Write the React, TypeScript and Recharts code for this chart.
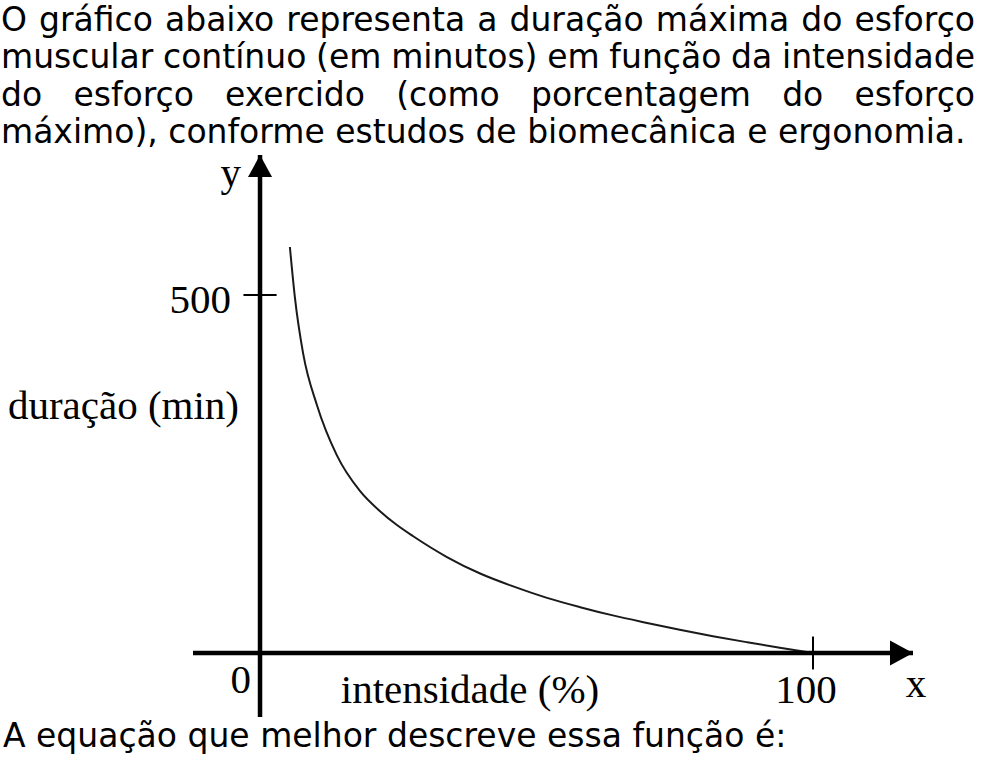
import { LineChart, Line, XAxis, YAxis, ReferenceLine, ReferenceDot } from 'recharts';

// curve: intensity (%) -> max duration (min)
const intensity = [5.4, 6.3, 7.8, 10.3, 13.9, 18.1, 21.7, 24.7, 27.7, 33.8, 39.8, 45.8, 51.9, 57.9, 63.8, 70.0, 75.9, 81.9, 88.1, 94.0, 100];
const duration = [567, 497, 418, 346, 276, 226, 198, 179, 163, 134, 111, 93, 77, 64, 52.5, 42, 32.5, 23.5, 15, 7.3, 0];

const xTicks = [0, 100];
const xTickLabels = ['0', '100'];
const yTicks = [500];
const yTickLabels = ['500'];

const introLines = [
  'O gráfico abaixo representa a duração máxima do esforço',
  'muscular contínuo (em minutos) em função da intensidade',
  'do esforço exercido (como porcentagem do esforço',
  'máximo), conforme estudos de biomecânica e ergonomia.',
];
const question = 'A equação que melhor descreve essa função é:';

const data = intensity.map((x, i) => ({ x, y: duration[i] }));

// axis extents (the drawn axes run a bit past the origin)
const X_MIN = -12.12;
const X_MAX = 118.08;
const Y_MIN = -89.4;
const Y_MAX = 695.5;

const serif = 'Liberation Serif, Times New Roman, serif';
const sans = 'DejaVu Sans, sans-serif';

const tag = (text: string, dx: number, dy: number, anchor: string) => (props: any) => {
  const vb = props.viewBox || {};
  return (
    <text x={vb.x + dx} y={vb.y + dy} textAnchor={anchor} fontFamily={serif} fontSize={41} fill="#000">
      {text}
    </text>
  );
};

const upArrow = (p: any) => <path d={`M${p.cx},${p.cy} l-12,22 l24,0 z`} fill="#000" />;
const rightArrow = (p: any) => <path d={`M${p.cx},${p.cy} l-23,-12.5 l0,25 z`} fill="#000" />;

const hidden = { r: 0, fill: 'none', stroke: 'none', ifOverflow: 'visible' as const };

export default function App() {
  return (
    <div style={{ position: 'absolute', left: 0, top: 0, width: 984, height: 758, background: '#fff', overflow: 'hidden' }}>
      <div style={{ position: 'absolute', left: 0, top: 0 }}>
        <LineChart width={984} height={758} data={data} margin={{ top: 155, right: 71, bottom: 41, left: 193 }}>
          <XAxis dataKey="x" type="number" domain={[X_MIN, X_MAX]} allowDataOverflow hide />
          <YAxis type="number" domain={[Y_MIN, Y_MAX]} allowDataOverflow hide />

          <Line
            type="monotone"
            dataKey="y"
            stroke="#1a1a1a"
            strokeWidth={2}
            dot={false}
            activeDot={false}
            isAnimationActive={false}
          />

          <ReferenceLine x={0} stroke="#000" strokeWidth={4.5} ifOverflow="visible" />
          <ReferenceLine y={0} stroke="#000" strokeWidth={4.5} ifOverflow="visible" />
          <ReferenceDot x={0} y={Y_MAX} {...hidden} shape={upArrow} />
          <ReferenceDot x={X_MAX} y={0} {...hidden} shape={rightArrow} />

          {yTicks.map((v) => (
            <ReferenceLine key={'yt' + v} segment={[{ x: -3, y: v }, { x: 3, y: v }]} stroke="#000" strokeWidth={2} ifOverflow="visible" />
          ))}
          {xTicks.filter((v) => v !== 0).map((v) => (
            <ReferenceLine key={'xt' + v} segment={[{ x: v, y: -23 }, { x: v, y: 23 }]} stroke="#000" strokeWidth={2} ifOverflow="visible" />
          ))}

          <ReferenceDot x={0} y={yTicks[0]} {...hidden} label={tag(yTickLabels[0], -29, 18, 'end')} />
          <ReferenceDot x={0} y={0} {...hidden} label={tag(xTickLabels[0], -9, 40, 'end')} />
          <ReferenceDot x={xTicks[1]} y={0} {...hidden} label={tag(xTickLabels[1], -7, 50, 'middle')} />
          <ReferenceDot x={0} y={Y_MAX} {...hidden} label={tag('y', -19, 31, 'end')} />
          <ReferenceDot x={X_MAX} y={0} {...hidden} label={tag('x', 3, 44, 'middle')} />
          <ReferenceDot x={0} y={yTicks[0]} {...hidden} label={tag('duração (min)', -21, 124, 'end')} />
          <ReferenceDot x={0} y={0} {...hidden} label={tag('intensidade (%)', 210, 50, 'middle')} />
        </LineChart>
      </div>

      <div style={{ position: 'absolute', left: 1, top: 1, width: 974, fontFamily: sans, fontSize: 33, lineHeight: '37.3px', color: '#000' }}>
        {introLines.map((line, i) => {
          const last = i === introLines.length - 1;
          return (
            <div
              key={i}
              style={{
                whiteSpace: 'nowrap',
                textAlign: last ? 'left' : 'justify',
                textAlignLast: last ? 'left' : 'justify',
                wordSpacing: last ? 0 : '-1px',
              }}
            >
              {line}
            </div>
          );
        })}
      </div>

      <div style={{ position: 'absolute', left: 3, top: 717, fontFamily: sans, fontSize: 33, lineHeight: '37.3px', color: '#000', whiteSpace: 'nowrap' }}>
        {question}
      </div>
    </div>
  );
}
